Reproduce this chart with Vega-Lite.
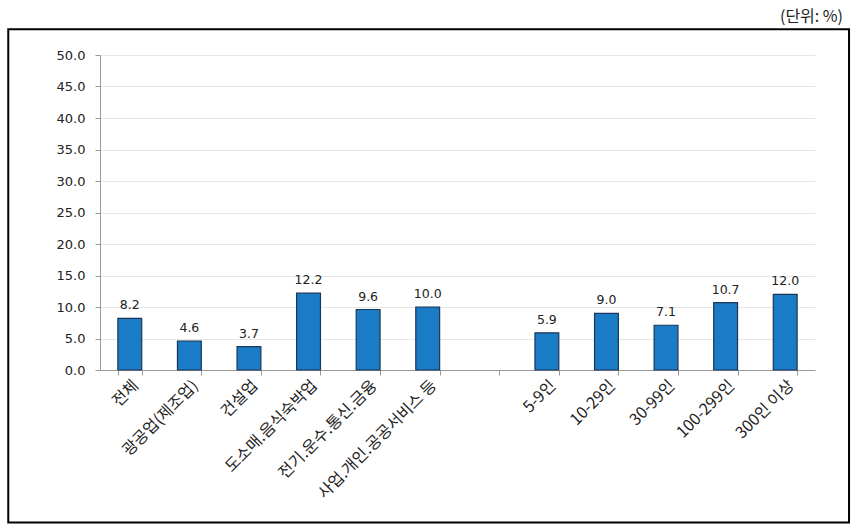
{
  "$schema": "https://vega.github.io/schema/vega-lite/v6.json",
  "width": 715,
  "height": 315,
  "autosize": {"type": "none"},
  "padding": {"left": 100, "top": 55, "right": 44, "bottom": 160},
  "background": "white",
  "title": {
    "text": "(단위: %)",
    "anchor": "end",
    "frame": "group",
    "baseline": "bottom",
    "dx": 28,
    "offset": -13,
    "font": "Noto Sans CJK KR",
    "fontSize": 16,
    "fontWeight": "normal",
    "color": "#222"
  },
  "config": {
    "view": {"stroke": null},
    "axis": {
      "labelFont": "DejaVu Sans",
      "labelFontSize": 13,
      "labelColor": "#222",
      "domainColor": "#999",
      "tickColor": "#999",
      "gridColor": "#e6e6e6"
    }
  },
  "layer": [
    {
      "data": {
        "values": [
          {"category": "전체", "value": 8.2},
          {"category": "광공업(제조업)", "value": 4.6},
          {"category": "건설업", "value": 3.7},
          {"category": "도소매.음식숙박업", "value": 12.2},
          {"category": "전기.운수.통신.금융", "value": 9.6},
          {"category": "사업.개인.공공서비스 등", "value": 10.0},
          {"category": "5-9인", "value": 5.9},
          {"category": "10-29인", "value": 9.0},
          {"category": "30-99인", "value": 7.1},
          {"category": "100-299인", "value": 10.7},
          {"category": "300인 이상", "value": 12.0}
        ]
      },
      "encoding": {
        "x": {
          "field": "category",
          "type": "nominal",
          "scale": {
            "domain": ["전체", "광공업(제조업)", "건설업", "도소매.음식숙박업", "전기.운수.통신.금융", "사업.개인.공공서비스 등", " ", "5-9인", "10-29인", "30-99인", "100-299인", "300인 이상"],
            "paddingInner": 0.6,
            "paddingOuter": 0.3
          },
          "axis": {
            "title": null,
            "labelAngle": -45,
            "labelFont": "Noto Sans CJK KR",
            "labelFontSize": 16,
            "labelOverlap": false,
            "labelLimit": 300,
            "tickBand": "extent",
            "tickSize": 5,
            "labelPadding": 2,
            "grid": false
          }
        },
        "y": {
          "field": "value",
          "type": "quantitative",
          "scale": {"domain": [0, 50], "nice": false},
          "axis": {
            "title": null,
            "values": [0, 5, 10, 15, 20, 25, 30, 35, 40, 45, 50],
            "format": ".1f",
            "labelOverlap": false,
            "tickSize": 5,
            "labelPadding": 10,
            "grid": true
          }
        }
      },
      "layer": [
        {"mark": {"type": "bar", "fill": "#1a7bc6", "stroke": "#1d3557", "strokeWidth": 1.2}},
        {
          "mark": {"type": "text", "baseline": "bottom", "dy": -6, "font": "DejaVu Sans", "fontSize": 12.5, "color": "#222"},
          "encoding": {"text": {"field": "value", "type": "quantitative", "format": ".1f"}}
        }
      ]
    },
    {
      "data": {"values": [{"frame": "box"}]},
      "mark": {"type": "rect", "fill": null, "stroke": "#000", "strokeWidth": 2},
      "encoding": {
        "x": {"datum": -0.1283, "type": "quantitative", "scale": {"domain": [0, 1], "nice": false, "zero": false}, "axis": null},
        "x2": {"datum": 1.0476},
        "y": {
          "datum": 54.08,
          "type": "quantitative",
          "axis": {
            "title": null,
            "values": [0, 5, 10, 15, 20, 25, 30, 35, 40, 45, 50],
            "format": ".1f",
            "labelOverlap": false,
            "tickSize": 5,
            "labelPadding": 10,
            "grid": true
          }
        },
        "y2": {"datum": -24.2}
      }
    }
  ],
  "resolve": {"scale": {"x": "independent"}}
}
